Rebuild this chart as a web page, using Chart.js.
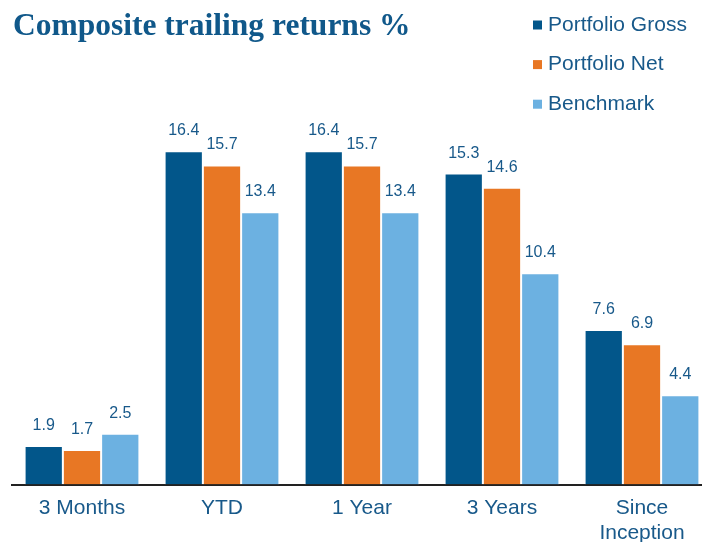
<!DOCTYPE html>
<html>
<head>
<meta charset="utf-8">
<script src="https://cdn.jsdelivr.net/npm/chart.js@4"></script>
<style>
  html, body { margin: 0; padding: 0; background: #fff; overflow: hidden; }
  #wrap { width: 720px; height: 561px; }
</style>
</head>
<body>
<div id="wrap"><canvas id="returns" width="720" height="561"></canvas></div>
<script>
var categories = ["3 Months", "YTD", "1 Year", "3 Years", ["Since", "Inception"]];
var seriesNames = ["Portfolio Gross", "Portfolio Net", "Benchmark"];
var gross = [1.9, 16.4, 16.4, 15.3, 7.6];
var net = [1.7, 15.7, 15.7, 14.6, 6.9];
var benchmark = [2.5, 13.4, 13.4, 10.4, 4.4];

var colors = ["#02568a", "#e87724", "#6cb1e1"];
var textBlue = "#18598a";

// value labels above the bars
var barLabels = {
    id: 'barLabels',
    afterDatasetsDraw: function(chart) {
        var ctx = chart.ctx;
        ctx.save();
        ctx.font = '16px "Liberation Sans", Arial, sans-serif';
        ctx.fillStyle = textBlue;
        ctx.textAlign = 'center';
        ctx.textBaseline = 'alphabetic';
        chart.data.datasets.forEach(function(ds, i) {
            chart.getDatasetMeta(i).data.forEach(function(bar, j) {
                ctx.fillText(ds.data[j].toFixed(1), bar.x, bar.y - 16);
            });
        });
        ctx.restore();
    }
};

// title top-left and vertical legend top-right
var header = {
    id: 'header',
    afterDraw: function(chart) {
        var ctx = chart.ctx;
        ctx.save();
        ctx.font = 'bold 31.5px "Liberation Serif", "Times New Roman", serif';
        ctx.fillStyle = "#10588a";
        ctx.textAlign = 'left';
        ctx.textBaseline = 'alphabetic';
        ctx.fillText("Composite trailing returns %", 13, 35);

        ctx.font = '21px "Liberation Sans", Arial, sans-serif';
        ctx.textBaseline = 'middle';
        chart.data.datasets.forEach(function(ds, i) {
            var y = 25 + i * 39.6;
            ctx.fillStyle = ds.backgroundColor;
            ctx.fillRect(533, y - 4.5, 9, 9);
            ctx.fillStyle = textBlue;
            ctx.fillText(ds.label, 548, y);
        });
        ctx.restore();
    }
};

var ctx = document.getElementById("returns").getContext('2d');

var chart = new Chart(ctx, {
    type: 'bar',
    data: {
        labels: categories,
        datasets: [
            { label: seriesNames[0], data: gross, backgroundColor: colors[0] },
            { label: seriesNames[1], data: net, backgroundColor: colors[1] },
            { label: seriesNames[2], data: benchmark, backgroundColor: colors[2] }
        ]
    },
    options: {
        responsive: false,
        animation: false,
        devicePixelRatio: 1,
        layout: { padding: { left: 12, right: 8, top: 78, bottom: 4 } },
        datasets: {
            bar: {
                categoryPercentage: 0.82,
                barPercentage: 1.0,
                borderColor: 'rgba(255,255,255,0.85)',
                borderWidth: { left: 1, right: 1, top: 1, bottom: 0 }
            }
        },
        plugins: {
            legend: { display: false },
            title: { display: false },
            tooltip: { enabled: false }
        },
        scales: {
            x: {
                grid: { display: false, drawTicks: false },
                border: { display: true, color: '#222', width: 2 },
                ticks: {
                    color: textBlue,
                    padding: 11,
                    maxRotation: 0,
                    autoSkip: false,
                    font: { family: '"Liberation Sans", Arial, sans-serif', size: 21, lineHeight: 1.2 }
                }
            },
            y: {
                display: false,
                min: 0,
                max: 20
            }
        }
    },
    plugins: [barLabels, header]
});
</script>
</body>
</html>
